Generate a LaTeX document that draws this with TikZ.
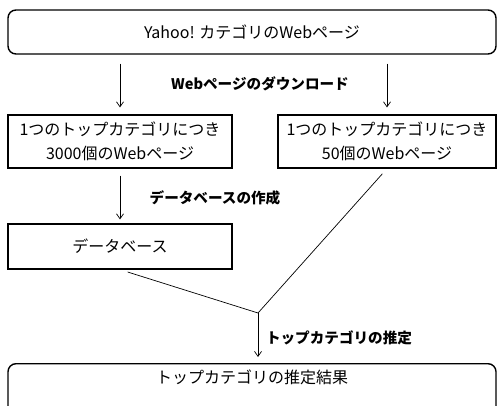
\documentclass[tikz,border=0pt]{standalone}
\usepackage{fontspec}
\setmainfont{Noto Sans CJK JP}
\usetikzlibrary{arrows.meta,positioning}

\begin{document}
\begin{tikzpicture}[x=1pt,y=-1pt,font=\fontsize{16}{24}\selectfont,
    roundbox/.style={draw,line width=1.4pt,rounded corners=8pt,
      minimum width=488pt,minimum height=44pt,inner sep=0pt},
    stagebox/.style={draw,line width=1.2pt,inner sep=0pt,align=center},
    flow/.style={-{Straight Barb[length=5pt,width=7pt]},line width=0.7pt},
    steplabel/.style={font=\fontsize{14.6}{17}\selectfont\bfseries}]
  \clip (0,0) rectangle (497,406);
  \node[roundbox] (yahoo) at (252,32) {Yahoo! カテゴリのWebページ};
  \node[stagebox,minimum width=224pt,minimum height=53pt] (many) at (120,141.5)
    {1つのトップカテゴリにつき\\3000個のWebページ};
  \node[stagebox,minimum width=218pt,minimum height=53pt] (few) at (387,141.5)
    {1つのトップカテゴリにつき\\50個のWebページ};
  \node[stagebox,minimum width=224pt,minimum height=45pt] (db) at (120,246.5) {データベース};
  \node[roundbox,anchor=north,text height=19.5pt,text depth=40pt] (result) at (252,363)
    {トップカテゴリの推定結果};
  \coordinate (join) at (258,313);

  \node[steplabel] (dl) at (260,84) {Webページのダウンロード};
  \node[steplabel] (mkdb) at (215,198) {データベースの作成};
  \node[steplabel] (est) at (339,338) {トップカテゴリの推定};

  \draw[flow,shorten <=9pt,shorten >=7pt] (yahoo.south -| many.north) -- (many.north);
  \draw[flow,shorten <=9pt,shorten >=7pt] (yahoo.south -| few.north) -- (few.north);
  \draw[flow,shorten <=7pt,shorten >=4pt] (many.south) -- (db.north);
  \draw[line width=0.7pt,shorten <=8pt] (db.south) -- (join);
  \draw[line width=0.7pt,shorten <=7pt] (few.south) -- (join);
  \draw[flow,shorten >=6pt] (join) -- (join |- result.north);
\end{tikzpicture}
\end{document}
